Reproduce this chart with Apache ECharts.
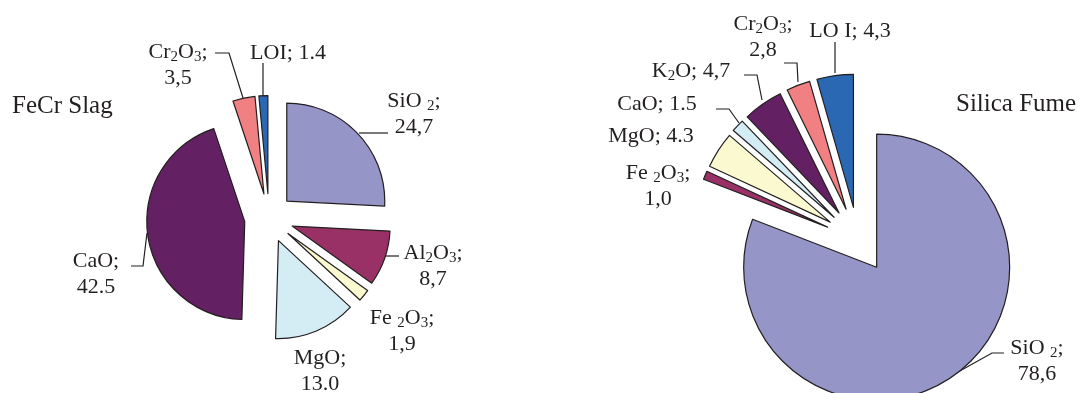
<!DOCTYPE html>
<html>
<head>
<meta charset="utf-8">
<script src="https://cdn.jsdelivr.net/npm/echarts@6/dist/echarts.min.js"></script>
<style>
  html, body { margin: 0; padding: 0; background: #ffffff; }
  #chart { width: 1081px; height: 393px; }
</style>
</head>
<body>
<div id="chart"></div>
<script>
// Oxide composition (wt. %) of the two materials
const slagOxides = ['SiO2', 'Al2O3', 'Fe2O3', 'MgO', 'CaO', 'Cr2O3', 'LOI'];
const slagValues = [24.7, 8.7, 1.9, 13.0, 42.5, 3.5, 1.4];
const fumeOxides = ['SiO2', 'Fe2O3', 'MgO', 'CaO', 'K2O', 'Cr2O3', 'LOI'];
const fumeValues = [78.6, 1.0, 4.3, 1.5, 4.7, 2.8, 4.3];

// Label names written with rich-text subscripts, and the decimal mark printed for each value
const slagLabelNames = ['SiO {s|2};', 'Al{s|2}O{s|3};', 'Fe {s|2}O{s|3};', 'MgO;', 'CaO;', 'Cr{s|2}O{s|3};', 'LOI;'];
const slagDecimal = [',', ',', ',', '.', '.', ',', '.'];
const slagOneLine = [false, false, false, false, false, false, true];
const fumeLabelNames = ['SiO {s|2};', 'Fe {s|2}O{s|3};', 'MgO;', 'CaO;', 'K{s|2}O;', 'Cr{s|2}O{s|3};', 'LO I;'];
const fumeDecimal = [',', ',', '.', '.', ',', ',', ','];
const fumeOneLine = [false, false, true, true, true, false, true];

// Slice colours, in slice order
const sliceColors = ['#9695c8', '#993166', '#fbf9d0', '#d4edf4', '#632062', '#f08081', '#2b68b3'];
const inkColor = '#231f20';

// Label placement: [centre x, first-line y] and leader polyline (null = no leader)
const slagLabelPos = [
  { at: [414, 101], line: [[359, 133], [388, 133]] },
  { at: [433, 253], line: [[385, 256], [399, 256]] },
  { at: [402, 318], line: null },
  { at: [320, 358], line: null },
  { at: [96, 261], line: [[147, 233], [143, 266], [131, 266]] },
  { at: [178, 52], line: [[243, 98], [229, 53], [215, 53]] },
  { at: [288, 53], line: [[263, 97], [263, 63]] }
];
const fumeLabelPos = [
  { at: [1037, 348], line: [[958, 372], [992, 353], [1004, 353]] },
  { at: [658, 173], line: null },
  { at: [651, 136], line: null },
  { at: [657, 104], line: [[739, 123], [729, 109], [716, 109]] },
  { at: [691, 71], line: [[762, 100], [757, 75], [744, 75]] },
  { at: [763, 24], line: [[798, 82], [797, 63], [784, 63]] },
  { at: [850, 31], line: [[835, 73], [835, 42]] }
];

const FONT = 'Liberation Serif';
const LABEL_FONT = 22;
const LINE_H = 26;

function labelText(names, values, decimals, oneLine, i) {
  const v = values[i].toFixed(1).replace('.', decimals[i]);
  return names[i] + (oneLine[i] ? ' ' : '\n') + v;
}

function buildData(oxides, values) {
  return oxides.map((ox, i) => ({
    name: ox,
    value: values[i],
    selected: true,
    itemStyle: { color: sliceColors[i] }
  }));
}

function labelGraphics(names, values, decimals, oneLine, layout) {
  const out = [];
  layout.forEach((p, i) => {
    out.push({
      type: 'text',
      x: p.at[0],
      y: p.at[1] - LINE_H / 2,
      silent: true,
      style: {
        text: labelText(names, values, decimals, oneLine, i),
        fill: inkColor,
        fontFamily: FONT,
        fontSize: LABEL_FONT,
        lineHeight: LINE_H,
        align: 'center',
        verticalAlign: 'top',
        rich: {
          s: { fontSize: 15, verticalAlign: 'bottom', lineHeight: LINE_H, fill: inkColor, fontFamily: FONT }
        }
      }
    });
    if (p.line) {
      out.push({
        type: 'polyline',
        silent: true,
        shape: { points: p.line },
        style: { stroke: inkColor, lineWidth: 1.2, fill: null }
      });
    }
  });
  return out;
}

function pieSeries(center, radius, offset, data) {
  return {
    type: 'pie',
    center: center,
    radius: radius,
    startAngle: 90,
    clockwise: true,
    selectedMode: 'multiple',
    selectedOffset: offset,
    avoidLabelOverlap: false,
    silent: true,
    animation: false,
    itemStyle: { borderColor: inkColor, borderWidth: 1.2 },
    select: { itemStyle: { borderColor: inkColor, borderWidth: 1.2 } },
    emphasis: { disabled: true },
    label: { show: false },
    labelLine: { show: false },
    data: data
  };
}

const titleStyle = { color: inkColor, fontFamily: FONT, fontSize: 25, fontWeight: 'normal' };

const chart = echarts.init(document.getElementById('chart'), null, { renderer: 'canvas' });
chart.setOption({
  backgroundColor: '#ffffff',
  animation: false,
  title: [
    { text: 'FeCr Slag', left: 12, top: 94, padding: 0, textStyle: titleStyle },
    { text: 'Silica Fume', left: 956, top: 92, padding: 0, textStyle: titleStyle }
  ],
  series: [
    pieSeries([269, 218], 98, 24.5, buildData(slagOxides, slagValues)),
    pieSeries([858, 240], 133, 33, buildData(fumeOxides, fumeValues))
  ],
  graphic: labelGraphics(slagLabelNames, slagValues, slagDecimal, slagOneLine, slagLabelPos)
    .concat(labelGraphics(fumeLabelNames, fumeValues, fumeDecimal, fumeOneLine, fumeLabelPos))
});
</script>
</body>
</html>
